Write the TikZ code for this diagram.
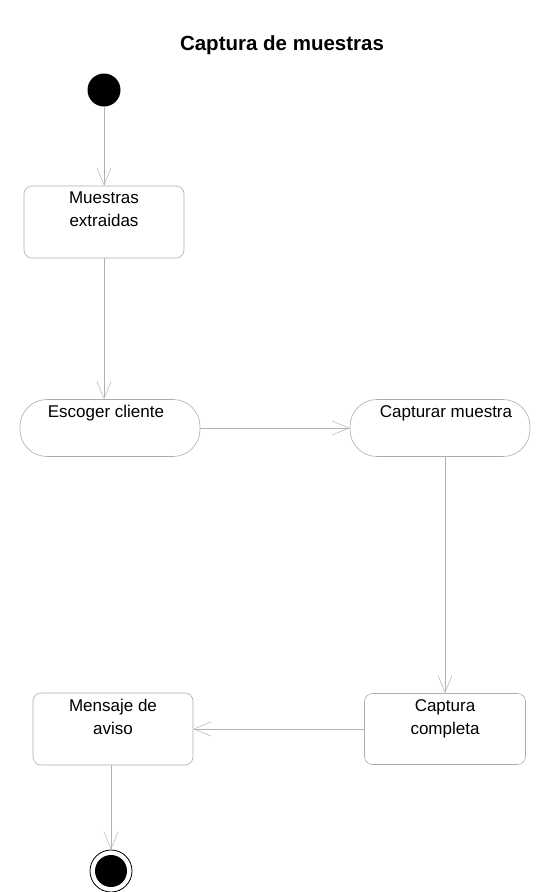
\documentclass[tikz,border=0pt]{standalone}
\usepackage{fontspec}
\setmainfont{Liberation Sans}
\usetikzlibrary{arrows.meta}
\begin{document}
\begin{tikzpicture}[x=1pt,y=-1pt,
  box/.style={draw=gray!65, line width=0.6pt, rounded corners=8pt, minimum width=#1, inner sep=0pt},
  activity/.style={draw=gray!65, line width=0.6pt, rounded corners=27pt, minimum width=180pt, minimum height=57pt, inner sep=0pt},
  txt/.style={font=\fontsize{17}{23}\selectfont, align=center, inner sep=0pt, anchor=north, yshift=-6pt},
  flow/.style={draw=gray!60, line width=0.5pt, -{Straight Barb[length=17pt,width=14pt]}},
  titlestyle/.style={font=\fontsize{20.5}{24}\selectfont\bfseries}
]
\useasboundingbox (0,0) rectangle (537,892);
\node[titlestyle] (title) at (282,45) {Captura de muestras};

\node[circle, fill=black, minimum size=33pt, inner sep=0pt] (start) at (104,90) {};

\node[box=160pt, minimum height=72pt,
  label={[txt]north:Muestras\\extraidas}] (muestras) at (104,222) {};
\node[activity, label={[txt, xshift=-4pt]north:Escoger cliente}] (escoger) at (110,428) {};
\node[activity, label={[txt, xshift=6pt]north:Capturar muestra}] (capturar) at (440,428) {};
\node[box=161pt, minimum height=71pt,
  label={[txt]north:Captura\\completa}] (completa) at (445,729) {};
\node[box=160pt, minimum height=72pt,
  label={[txt]north:Mensaje de\\aviso}] (mensaje) at (113,729) {};

\node[circle, draw=black, line width=0.8pt, minimum size=42pt, inner sep=0pt] (final) at (111,871) {};
\node[circle, fill=black, minimum size=32pt, inner sep=0pt] (finaldot) at (final.center) {};

\draw[flow] (start) -- (muestras);
\draw[flow] (muestras.south) -- (muestras.south |- escoger.north);
\draw[flow] (escoger.east) -- (capturar.west);
\draw[flow] (capturar.south -| completa.north) -- (completa.north);
\draw[flow] (completa.west) -- (mensaje.east);
\draw[flow] (mensaje.south -| final.north) -- (final.north);
\end{tikzpicture}
\end{document}
